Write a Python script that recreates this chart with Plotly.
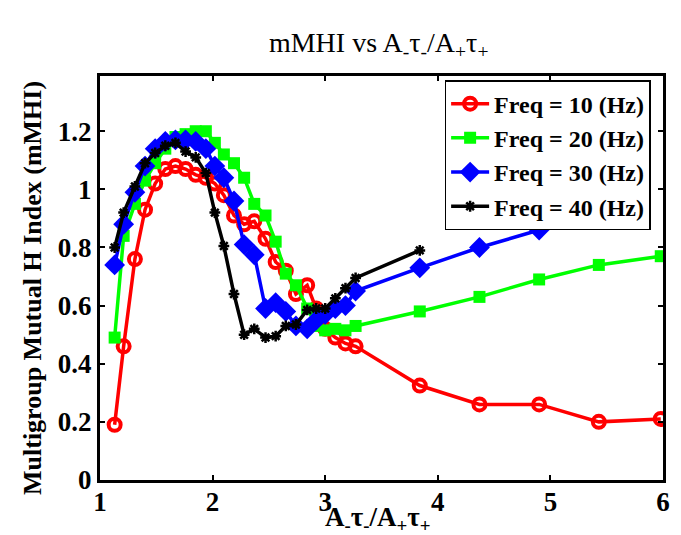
import plotly.graph_objects as go

x_all = [1.13, 1.21, 1.31, 1.40, 1.49, 1.58, 1.67, 1.76, 1.85, 1.94, 2.02, 2.10, 2.19, 2.28,
         2.37, 2.47, 2.56, 2.65, 2.74, 2.84, 2.92, 3.00, 3.09, 3.18, 3.27, 3.84, 4.37, 4.90,
         5.43, 5.98]

freq10 = [0.19, 0.46, 0.76, 0.93, 1.02, 1.07, 1.08, 1.07, 1.05, 1.04, 1.02, 0.98, 0.91, 0.88,
          0.89, 0.83, 0.75, 0.72, 0.64, 0.67, 0.59, 0.52, 0.49, 0.47, 0.46, 0.325, 0.26, 0.26,
          0.20, 0.21]
freq20 = [0.49, 0.84, 0.95, 1.03, 1.09, 1.14, 1.18, 1.19, 1.20, 1.20, 1.16, 1.12, 1.09, 1.04,
          0.95, 0.91, 0.82, 0.71, 0.67, 0.59, 0.53, 0.515, 0.52, 0.515, 0.53, 0.58, 0.63, 0.69,
          0.74, 0.77]
freq30 = [0.74, 0.88, 0.99, 1.08, 1.14, 1.165, 1.17, 1.17, 1.165, 1.14, 1.08, 1.04, 0.96, 0.81,
          0.775, 0.59, 0.61, 0.58, 0.53, 0.52, 0.55, 0.57, 0.59, 0.60, 0.65, 0.73, 0.80, 0.86]
freq40 = [0.80, 0.92, 1.01, 1.09, 1.125, 1.15, 1.16, 1.13, 1.11, 1.056, 0.92, 0.805, 0.64, 0.50,
          0.52, 0.49, 0.495, 0.53, 0.535, 0.585, 0.59, 0.59, 0.625, 0.66, 0.695, 0.79]

series_names = ["Freq = 10 (Hz)", "Freq = 20 (Hz)", "Freq = 30 (Hz)", "Freq = 40 (Hz)"]

x_ticks = [1, 2, 3, 4, 5, 6]
y_ticks = [0, 0.2, 0.4, 0.6, 0.8, 1.0, 1.2]
y_tick_labels = ["0", "0.2", "0.4", "0.6", "0.8", "1", "1.2"]

title_text = "mMHI vs A<sub>-</sub>τ<sub>-</sub>/A<sub>+</sub>τ<sub>+</sub>"
x_title_text = "<b>A<sub>-</sub>τ<sub>-</sub>/A<sub>+</sub>τ<sub>+</sub></b>"
y_title_text = "<b>Multigroup Mutual H Index (mMHI)</b>"

FONT = "Liberation Serif"

fig = go.Figure()

fig.add_trace(go.Scatter(
    x=x_all[:len(freq10)], y=freq10, name=series_names[0], mode="lines+markers",
    line=dict(color="#ff0000", width=3.5),
    marker=dict(symbol="circle-open", size=12, color="#ff0000", line=dict(width=4, color="#ff0000"))))
fig.add_trace(go.Scatter(
    x=x_all[:len(freq20)], y=freq20, name=series_names[1], mode="lines+markers",
    line=dict(color="#00ff00", width=3.5),
    marker=dict(symbol="square", size=12, color="#00ff00")))
fig.add_trace(go.Scatter(
    x=x_all[:len(freq30)], y=freq30, name=series_names[2], mode="lines+markers",
    line=dict(color="#0000ff", width=3.5),
    marker=dict(symbol="diamond", size=16, color="#0000ff")))
fig.add_trace(go.Scatter(
    x=x_all[:len(freq40)], y=freq40, name=series_names[3], mode="lines+markers",
    line=dict(color="#000000", width=3.5),
    marker=dict(symbol="asterisk-open", size=9, color="#000000", line=dict(width=2.5, color="#000000"))))

fig.update_layout(
    width=681, height=535,
    margin=dict(l=92, r=26, t=68, b=63),
    paper_bgcolor="white", plot_bgcolor="white",
    font=dict(family=FONT, color="black"),
    title=dict(text=title_text,
               x=0.495, xref="paper", xanchor="center", y=1 - 34 / 535, yref="container", yanchor="middle",
               font=dict(family=FONT, size=28, color="black")),
    showlegend=True,
    legend=dict(x=0.978, xanchor="right", y=0.99, yanchor="top",
                bgcolor="white", bordercolor="black", borderwidth=1.5,
                font=dict(family=FONT, size=24, color="black", weight="bold"),
                itemwidth=38, tracegroupgap=0),
    annotations=[
        dict(text=x_title_text, xref="paper", yref="paper", x=0.494, y=-(530 - 472) / 404,
             xanchor="center", yanchor="bottom", showarrow=False,
             font=dict(family=FONT, size=27, color="black")),
        dict(text=y_title_text, xref="paper", yref="paper", x=(24 - 92) / 563, y=(472 - 280) / 404,
             xanchor="center", yanchor="middle", textangle=-90, showarrow=False,
             font=dict(family=FONT, size=26, color="black")),
    ],
)

fig.update_xaxes(
    range=[1, 6], tickvals=x_ticks, ticktext=[str(v) for v in x_ticks],
    showgrid=False, zeroline=False, showline=True, linecolor="black", linewidth=3,
    mirror="ticks", ticks="inside", ticklen=5, tickwidth=2, tickcolor="black",
    ticklabelstandoff=-4,
    tickfont=dict(family=FONT, size=27, color="black", weight="bold"),
)
fig.update_yaxes(
    range=[0, 1.39], tickvals=y_ticks, ticktext=y_tick_labels,
    showgrid=False, zeroline=False, showline=True, linecolor="black", linewidth=3,
    mirror="ticks", ticks="inside", ticklen=5, tickwidth=2, tickcolor="black",
    tickfont=dict(family=FONT, size=27, color="black", weight="bold"),
)

fig.write_html("out.html")
